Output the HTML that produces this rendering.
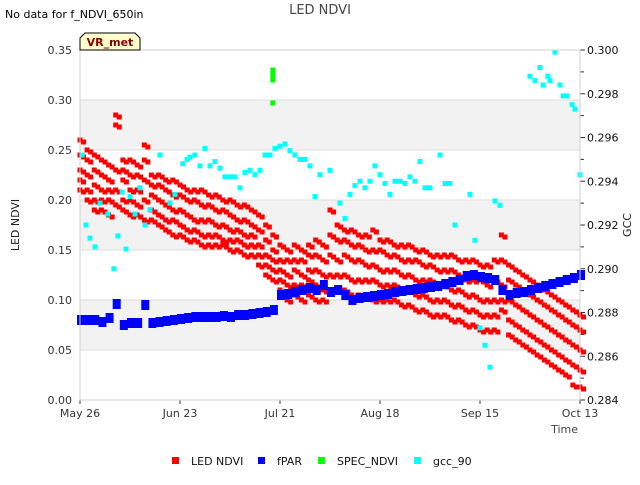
<!DOCTYPE html>
<html><head><meta charset="utf-8"><style>
body{margin:0;background:#fff;font-family:"Liberation Sans","DejaVu Sans",sans-serif}
svg text{font-family:"DejaVu Sans","Liberation Sans",sans-serif}
</style></head><body>
<svg id="c" width="640" height="480">
<rect x="0" y="0" width="640" height="480" fill="#fff"/>
<g id="grid"></g><g id="marks"></g><g id="axes"></g>
<text x="5" y="18" font-size="11" fill="#000">No data for f_NDVI_650in</text>
<text x="320" y="14" font-size="13" fill="#444" text-anchor="middle">LED NDVI</text>
<g>
<path d="M80,50 L80,38 L85,33 L135,33 L140,38 L140,50 Z" fill="#ffffcc" stroke="#000" stroke-width="1"/>
<text x="110" y="46" font-size="11" font-weight="bold" fill="#8b0000" text-anchor="middle">VR_met</text>
</g>
<text transform="translate(19,225) rotate(-90)" font-size="11" fill="#222" text-anchor="middle">LED NDVI</text>
<text transform="translate(631,225) rotate(-90)" font-size="11" fill="#222" text-anchor="middle">GCC</text>
<text x="578" y="433" font-size="11" fill="#444" text-anchor="end">Time</text>
<g id="legend"></g>
</svg>
<script>
const ndviDays=[0,2,4,6,8,10,12,14,16,18,20,22,24,26,28,30,32,34,36,38,40,42,44,46,48,50,52,54,56,58,60,62,64,66,68,70,72,74,76,78,80,82,84,86,88,90,92,94,96,98,100,102,104,106,108,110,112,114,116,118,120,122,124,126,128,130,132,134,136,138,140];
const ndviA=[.26,.25,.245,.24,.235,.285,.24,.24,.235,.255,.225,.225,.22,.22,.215,.21,.21,.21,.205,.205,.2,.2,.195,.195,.19,.185,.175,.165,.155,.15,.155,.15,.155,.16,.155,.19,.175,.17,.17,.165,.165,.17,.16,.16,.155,.155,.155,.15,.15,.145,.145,.145,.145,.14,.14,.14,.135,.135,.14,.165,.135,.13,.125,.12,.115,.11,.105,.1,.095,.09,.085];
const ndviB=[.245,.24,.23,.225,.22,.275,.23,.225,.225,.24,.215,.215,.21,.205,.205,.2,.2,.195,.195,.19,.19,.185,.18,.18,.175,.17,.16,.15,.14,.14,.14,.14,.145,.145,.14,.165,.16,.16,.155,.155,.15,.15,.15,.145,.145,.14,.14,.14,.135,.135,.13,.13,.13,.125,.12,.12,.12,.115,.12,.14,.12,.115,.11,.105,.1,.095,.09,.085,.08,.075,.07];
const ndviC=[.23,.225,.215,.21,.21,.23,.22,.21,.21,.22,.205,.2,.195,.19,.19,.185,.18,.18,.18,.175,.175,.17,.17,.165,.165,.155,.145,.14,.13,.125,.13,.125,.13,.13,.125,.145,.14,.145,.14,.14,.135,.135,.13,.13,.13,.125,.125,.12,.12,.12,.115,.115,.11,.11,.105,.105,.1,.1,.1,.115,.1,.095,.09,.085,.08,.075,.07,.065,.06,.055,.05];
const ndviD=[.22,.21,.2,.2,.2,.21,.2,.2,.195,.2,.19,.185,.18,.18,.175,.17,.17,.165,.165,.165,.16,.16,.16,.155,.155,.145,.135,.13,.12,.115,.115,.115,.12,.115,.11,.125,.125,.125,.12,.12,.12,.12,.115,.115,.115,.11,.11,.105,.105,.1,.1,.1,.095,.095,.09,.09,.085,.085,.085,.1,.08,.075,.07,.065,.06,.055,.05,.045,.04,.035,.03];
const ndviE=[.21,.2,.19,.19,.185,.195,.19,.185,.185,.18,.18,.175,.17,.165,.165,.16,.16,.155,.155,.155,.155,.15,.15,.145,.145,.135,.125,.12,.11,.1,.105,.1,.105,.1,.1,.11,.11,.11,.105,.105,.105,.1,.1,.1,.1,.095,.095,.09,.09,.085,.085,.085,.08,.08,.075,.075,.07,.07,.07,.09,.065,.06,.055,.05,.045,.04,.035,.03,.025,.015,.013];
const fparDays=ndviDays;
const fparVals=[.08,.08,.08,.078,.082,.096,.075,.077,.077,.095,.077,.078,.079,.08,.081,.082,.083,.083,.083,.083,.084,.083,.085,.085,.086,.087,.088,.09,.105,.106,.108,.11,.112,.11,.115,.108,.11,.105,.1,.102,.103,.104,.105,.106,.108,.109,.11,.111,.112,.113,.114,.116,.118,.12,.124,.125,.123,.122,.12,.11,.105,.107,.108,.11,.112,.114,.116,.118,.12,.122,.125];
const specDays=[54,54,54,54];
const specVals=[.33,.325,.32,.297];
const gccDays=[0.6,1.7,2.8,4.2,5.6,7.8,9.5,10.6,11.8,12.9,14,15.4,16.8,18.2,19.6,22.4,25.2,26.6,28.8,30,30.8,32.2,33.6,35,36.4,37.8,39.2,40.6,42,43.4,44.8,46.2,47.6,49,50.4,51.8,53.2,54.6,56,57.4,58.8,60.2,61.6,63,64.4,65.8,67.2,70,72.8,74.2,75.6,77,78.4,79.8,81.2,82.6,84,85.4,86.8,88.2,89.6,91,92.4,93.8,95.2,96.6,98,100.8,102.2,103.6,105,109.2,110.6,112,113.4,114.8,116.2,117.6,126,127.4,128.8,129.7,131,131.6,133,134.4,135.3,136.4,137.8,138.6,140];
const gccVals=[.2952,.2920,.2914,.2910,.2930,.2925,.2900,.2915,.2935,.2909,.2933,.2925,.2937,.2920,.2927,.2952,.2930,.2934,.2948,.2950,.2951,.2952,.2947,.2955,.2947,.2949,.2946,.2942,.2942,.2942,.2937,.2944,.2945,.2943,.2945,.2952,.2952,.2955,.2956,.2957,.2954,.2952,.2950,.2950,.2947,.2933,.2943,.2945,.2930,.2923,.2934,.2938,.2940,.2937,.2940,.2947,.2943,.2939,.2934,.2940,.2940,.2939,.2942,.2940,.2949,.2937,.2937,.2952,.2939,.2939,.2920,.2934,.2913,.2873,.2865,.2855,.2931,.2929,.2988,.2986,.2992,.2984,.2988,.2986,.2999,.2984,.2979,.2979,.2975,.2973,.2943];
const leftTicks=[0,.05,.1,.15,.2,.25,.3,.35];
const leftLabels=["0.00","0.05","0.10","0.15","0.20","0.25","0.30","0.35"];
const rightTicks=[.284,.286,.288,.290,.292,.294,.296,.298,.300];
const rightLabels=["0.284","0.286","0.288","0.290","0.292","0.294","0.296","0.298","0.300"];
const xTicks=[0,28,56,84,112,140];
const xLabels=["May 26","Jun 23","Jul 21","Aug 18","Sep 15","Oct 13"];

const X0=80,X1=580,Y0=400,Y1=50;
const xs=d=>X0+(d/140)*(X1-X0);
const yl=v=>Y0-(v/0.35)*(Y0-Y1);
const yr=v=>Y0-((v-0.284)/0.016)*(Y0-Y1);
const NS="http://www.w3.org/2000/svg";
function mk(tag,attrs,parent){const e=document.createElementNS(NS,tag);for(const k in attrs)e.setAttribute(k,attrs[k]);parent.appendChild(e);return e;}
const grid=document.getElementById('grid'),marks=document.getElementById('marks'),axes=document.getElementById('axes'),legend=document.getElementById('legend');
// bands
[[.05,.10],[.15,.20],[.25,.30]].forEach(b=>{const r=mk('rect',{x:X0,y:yl(b[1]),width:X1-X0,height:yl(b[0])-yl(b[1]),fill:'#f2f2f2'},grid);

});
leftTicks.forEach((t,i)=>{const l=mk('line',{x1:X0,x2:X1,y1:yl(t),y2:yl(t),stroke:'#dcdcdc','stroke-width':1},grid);


const tx=mk('text',{x:X0-8,y:yl(t)+4,'font-size':11,fill:'#333','text-anchor':'end'},axes);tx.textContent=leftLabels[i];

});
rightTicks.forEach((t,i)=>{mk('line',{x1:X1,x2:X1+5,y1:yr(t),y2:yr(t),stroke:'#333'},axes);
if(i<rightTicks.length-1){const m=yr(t+.001);mk('line',{x1:X1,x2:X1+4,y1:m,y2:m,stroke:'#333'},axes);}
const tx=mk('text',{x:X1+7,y:yr(t)+4,'font-size':11,fill:'#111'},axes);tx.textContent=rightLabels[i];

});
xTicks.forEach((t,i)=>{mk('line',{x1:xs(t),x2:xs(t),y1:Y0,y2:Y0+4,stroke:'#333'},axes);
const tx=mk('text',{x:xs(t),y:Y0+17,'font-size':11,fill:'#333','text-anchor':'middle'},axes);tx.textContent=xLabels[i];

});
mk('rect',{x:X0,y:Y1,width:X1-X0,height:Y0-Y1,fill:'none',stroke:'#d0d0d0'},axes);
// series
[ndviA,ndviB,ndviC,ndviD,ndviE].forEach(arr=>{arr.forEach((v,i)=>{
 [0,1].forEach(o=>{const r=mk('rect',{x:xs(ndviDays[i]+o)-2.5,y:yl(v-o*0.002)-2.5,width:5,height:5,fill:'#f00'},marks);
 
 });});});
fparVals.forEach((v,i)=>{const r=mk('rect',{x:xs(fparDays[i])-3,y:yl(v)-5,width:8,height:10,fill:'#00f'},marks);

});
gccVals.forEach((v,i)=>{const r=mk('rect',{x:xs(gccDays[i])-2.5,y:yr(v)-2.5,width:5,height:5,fill:'#0ff'},marks);

});
specVals.forEach((v,i)=>{const r=mk('rect',{x:xs(specDays[i])-2.5,y:yl(v)-2.5,width:5,height:5,fill:'#0f0'},marks);

});
// legend
[['LED NDVI','#f00',176],['fPAR','#00f',262],['SPEC_NDVI','#0f0',322],['gcc_90','#0ff',418]].forEach(e=>{
const g=mk('g',{},legend);


mk('rect',{x:e[2]-4,y:457,width:7,height:7,fill:e[1]},g);
const t=mk('text',{x:e[2]+15,y:465,'font-size':11,fill:'#111'},g);t.textContent=e[0];});
</script>
</body></html>
